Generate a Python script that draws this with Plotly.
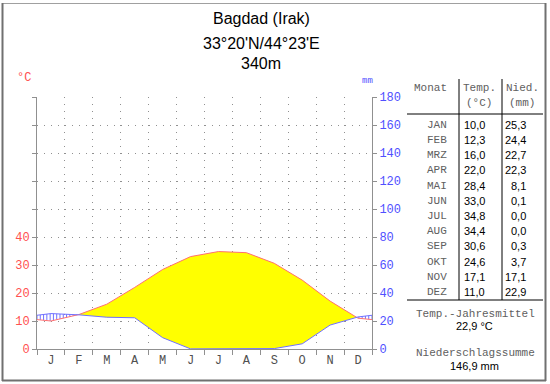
import plotly.graph_objects as go
import numpy as np

# ---------------- data ----------------
months = ["J", "F", "M", "A", "M", "J", "J", "A", "S", "O", "N", "D"]
table_months = ["JAN", "FEB", "MRZ", "APR", "MAI", "JUN", "JUL", "AUG", "SEP", "OKT", "NOV", "DEZ"]
temp = [10.0, 12.3, 16.0, 22.0, 28.4, 33.0, 34.8, 34.4, 30.6, 24.6, 17.1, 11.0]
prec = [25.3, 24.4, 22.7, 22.3, 8.1, 0.1, 0.0, 0.0, 0.3, 3.7, 17.1, 22.9]
temp_ticks = [0, 10, 20, 30, 40, 50, 60, 70, 80, 90]
temp_tick_labels = ["0", "10", "20", "30", "40", "", "", "", "", ""]
prec_ticks = [0, 20, 40, 60, 80, 100, 120, 140, 160, 180]
title_lines = ["Bagdad (Irak)", "33°20'N/44°23'E", "340m"]
annual_temp = "22,9 °C"
annual_prec = "146,9 mm"

def fmt(v):
    return f"{v:.1f}".replace(".", ",")

# ---------------- geometry helpers ----------------
W, H = 550, 384
L, R, T, B = 37, 372, 97, 349

def px(x):
    return (x - L) / (R - L)

def py(y):
    return (B - y) / (B - T)

# ---------------- derived curves ----------------
edge_t = (temp[0] + temp[-1]) / 2
edge_p = (prec[0] + prec[-1]) / 2
xs = [0.0] + [i + 0.5 for i in range(12)] + [12.0]
ts = [edge_t] + temp + [edge_t]
ps_mm = [edge_p] + prec + [edge_p]
ps = [p / 2 for p in ps_mm]

# insert crossing points
xr, tr, pr = [xs[0]], [ts[0]], [ps[0]]
for i in range(len(xs) - 1):
    d0 = ts[i] - ps[i]
    d1 = ts[i + 1] - ps[i + 1]
    if d0 * d1 < 0:
        f = d0 / (d0 - d1)
        xc = xs[i] + f * (xs[i + 1] - xs[i])
        yc = ts[i] + f * (ts[i + 1] - ts[i])
        xr.append(xc); tr.append(yc); pr.append(yc)
    xr.append(xs[i + 1]); tr.append(ts[i + 1]); pr.append(ps[i + 1])
low = [min(a, b) for a, b in zip(tr, pr)]

# hatch for humid periods
hx, hy = [], []
for xv in np.arange(0, 12.0001, 1 / 8.5):
    tv = float(np.interp(xv, xs, ts))
    pv = float(np.interp(xv, xs, ps))
    if pv > tv + 0.1:
        hx += [xv, xv, None]
        hy += [tv, pv, None]

RED = "#ff5050"
BLUE = "#5050ff"
GRAY = "#909090"
DOT = "1px,6px"

fig = go.Figure()
fig.add_trace(go.Scatter(x=xr, y=low, mode="lines", line=dict(width=0, color="#ffff00"),
                         hoverinfo="skip", showlegend=False))
fig.add_trace(go.Scatter(x=xr, y=tr, mode="lines", line=dict(width=0, color="#ffff00"),
                         fill="tonexty", fillcolor="#ffff00", hoverinfo="skip", showlegend=False))
fig.add_trace(go.Scatter(x=hx, y=hy, mode="lines", line=dict(width=1, color="#7070ff"),
                         hoverinfo="skip", showlegend=False))
fig.add_trace(go.Scatter(x=xs, y=ps_mm, yaxis="y2", mode="lines", line=dict(width=1, color="#7070ff"),
                         showlegend=False))
fig.add_trace(go.Scatter(x=xs, y=ts, mode="lines", line=dict(width=1, color="#ff7070"),
                         showlegend=False))

mono = "Liberation Mono"
sans = "Liberation Sans"

fig.update_layout(
    width=W, height=H,
    margin=dict(l=L, r=W - R, t=T, b=H - B),
    paper_bgcolor="white", plot_bgcolor="white",
    showlegend=False,
    xaxis=dict(range=[0, 12], tickmode="array", tickvals=[i + 0.5 for i in range(12)], ticktext=months,
               ticks="", showgrid=False, zeroline=False, showline=True, linecolor=GRAY, linewidth=1,
               tickfont=dict(family=mono, size=12, color="#505050"),
               minor=dict(tick0=0, dtick=1, ticks="outside", ticklen=5, tickcolor=GRAY,
                          showgrid=True, gridcolor=GRAY, griddash=DOT, gridwidth=1)),
    yaxis=dict(range=[0, 90], tickmode="array", tickvals=temp_ticks, ticktext=temp_tick_labels,
               ticks="outside", ticklen=4, tickcolor=GRAY, showgrid=True, gridcolor=GRAY,
               griddash=DOT, zeroline=False, showline=True, linecolor=GRAY,
               tickfont=dict(family=mono, size=12, color=RED)),
    yaxis2=dict(range=[0, 180], overlaying="y", side="right", tickmode="array", tickvals=prec_ticks,
                ticks="outside", ticklen=4, tickcolor=GRAY, showgrid=False, zeroline=False,
                showline=True, linecolor=GRAY, tickfont=dict(family=mono, size=12, color=BLUE)),
)

ann = []
def text(x, y, s, font=sans, size=11, color="black", xanchor="center"):
    ann.append(dict(x=px(x), y=py(y), xref="paper", yref="paper", text=s, showarrow=False,
                    xanchor=xanchor, yanchor="middle", font=dict(family=font, size=size, color=color)))

for s, y in zip(title_lines, [18, 43, 63]):
    text(261, y, s, size=16)
text(24, 78, "°C", font=mono, size=12, color=RED)
text(367, 81, "mm", font=mono, size=9, color=BLUE)

TXT = "#606060"
text(430, 88, "Monat", font=mono, size=11, color=TXT)
text(479, 88, "Temp.", font=mono, size=11, color=TXT)
text(479, 103, "(°C)", font=mono, size=11, color=TXT)
text(522, 88, "Nied.", font=mono, size=11, color=TXT)
text(522, 103, "(mm)", font=mono, size=11, color=TXT)
for i in range(12):
    y = 124.7 + i * 15.2
    text(437, y, table_months[i], font=mono, size=11, color=TXT)
    text(487, y, fmt(temp[i]), size=11, xanchor="right")
    text(528, y, fmt(prec[i]), size=11, xanchor="right")
text(475, 314, "Temp.-Jahresmittel", font=mono, size=11, color=TXT)
text(474, 326, annual_temp, size=11)
text(475, 353, "Niederschlagssumme", font=mono, size=11, color=TXT)
text(474, 366, annual_prec, size=11)

shapes = []
def line(x0, y0, x1, y1, color="black", width=1):
    shapes.append(dict(type="line", xref="paper", yref="paper", x0=px(x0), y0=py(y0),
                       x1=px(x1), y1=py(y1), line=dict(color=color, width=width)))

line(407, 114, 543, 114)
line(407, 300, 543, 300)
line(459, 79, 459, 300)
line(502, 79, 502, 300)
# frame
line(2, 3.5, 546, 3.5, color="#a0a0a0", width=1)
line(2.5, 3, 2.5, 381, color="#707070", width=2)
line(545.5, 3, 545.5, 381, color="#707070", width=2)
line(2, 380.5, 546, 380.5, color="#707070", width=2)

fig.update_layout(annotations=ann, shapes=shapes)
fig.write_html("out.html", config={"displayModeBar": False},
               post_script="document.body.style.margin='0';document.body.style.overflow='hidden';")
